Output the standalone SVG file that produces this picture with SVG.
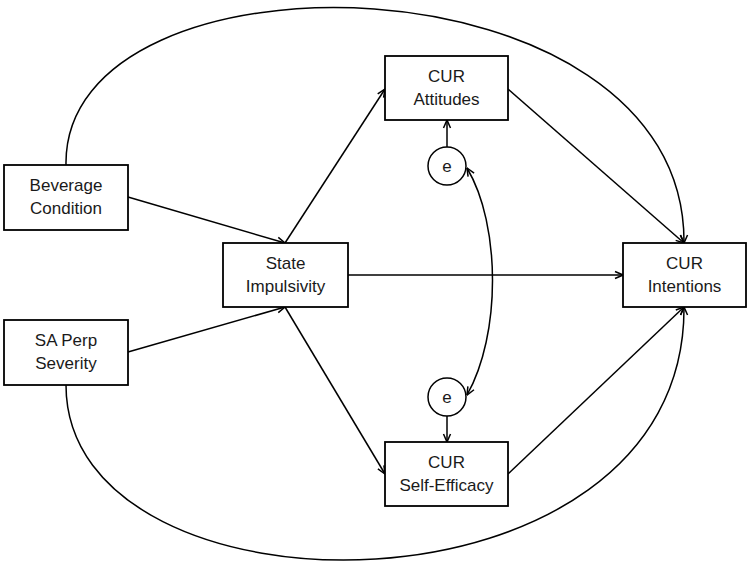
<svg xmlns="http://www.w3.org/2000/svg" width="750" height="563" viewBox="0 0 750 563">
<style>
.box{fill:#fff;stroke:#000;stroke-width:1.8}
.lbl{font-family:"Liberation Sans",Arial,sans-serif;font-size:17px;fill:#1a1a1a;text-anchor:middle}
.c{fill:none;stroke:#000;stroke-width:1.5}
</style>
<defs>
<marker id="ah" viewBox="0 0 10 10" refX="9.5" refY="5" markerWidth="10" markerHeight="10" markerUnits="userSpaceOnUse" orient="auto-start-reverse">
<path d="M1.5,1.5 L9.5,5 L1.5,8.5" fill="none" stroke="#000" stroke-width="1.5"/>
</marker>
</defs>
<rect width="750" height="563" fill="#fff"/>
<g id="connectors">
<line class="c" x1="128" y1="197" x2="285" y2="243" marker-end="url(#ah)"/>
<line class="c" x1="128" y1="352" x2="285" y2="307" marker-end="url(#ah)"/>
<line class="c" x1="285" y1="243" x2="385" y2="89" marker-end="url(#ah)"/>
<line class="c" x1="285" y1="307" x2="385" y2="474" marker-end="url(#ah)"/>
<line class="c" x1="348" y1="275" x2="623" y2="275" marker-end="url(#ah)"/>
<line class="c" x1="508" y1="89" x2="684" y2="243" marker-end="url(#ah)"/>
<line class="c" x1="508" y1="474" x2="684" y2="307" marker-end="url(#ah)"/>
<line class="c" x1="447" y1="147" x2="447" y2="120" marker-end="url(#ah)"/>
<line class="c" x1="447" y1="416" x2="447" y2="442" marker-end="url(#ah)"/>
<path class="c" d="M66,165 C62,-62 686,-50 684,243" marker-end="url(#ah)"/>
<path class="c" d="M66,385 C66,630 686,630 684,307" marker-end="url(#ah)"/>
<path class="c" d="M467,168 C501,225 501,335 467,395" marker-start="url(#ah)" marker-end="url(#ah)"/>
</g>
<g id="beverage">
<rect class="box" x="4" y="165" width="124" height="65"/>
<text class="lbl" x="66" y="191">Beverage</text>
<text class="lbl" x="66" y="214">Condition</text>
</g>
<g id="saperp">
<rect class="box" x="4" y="320" width="124" height="65"/>
<text class="lbl" x="66" y="346">SA Perp</text>
<text class="lbl" x="66" y="369">Severity</text>
</g>
<g id="state">
<rect class="box" x="223" y="243" width="125" height="64"/>
<text class="lbl" x="285.5" y="269">State</text>
<text class="lbl" x="285.5" y="292">Impulsivity</text>
</g>
<g id="attitudes">
<rect class="box" x="385" y="56" width="123" height="64"/>
<text class="lbl" x="446.5" y="82">CUR</text>
<text class="lbl" x="446.5" y="105">Attitudes</text>
</g>
<g id="selfefficacy">
<rect class="box" x="385" y="442" width="123" height="64"/>
<text class="lbl" x="446.5" y="468">CUR</text>
<text class="lbl" x="446.5" y="491">Self-Efficacy</text>
</g>
<g id="intentions">
<rect class="box" x="623" y="243" width="123" height="64"/>
<text class="lbl" x="684.5" y="269">CUR</text>
<text class="lbl" x="684.5" y="292">Intentions</text>
</g>
<g id="e1">
<circle class="box" cx="447" cy="166" r="19" style="stroke-width:1.5"/>
<text class="lbl" x="447" y="172">e</text>
</g>
<g id="e2">
<circle class="box" cx="447" cy="397" r="19" style="stroke-width:1.5"/>
<text class="lbl" x="447" y="403">e</text>
</g>
</svg>
